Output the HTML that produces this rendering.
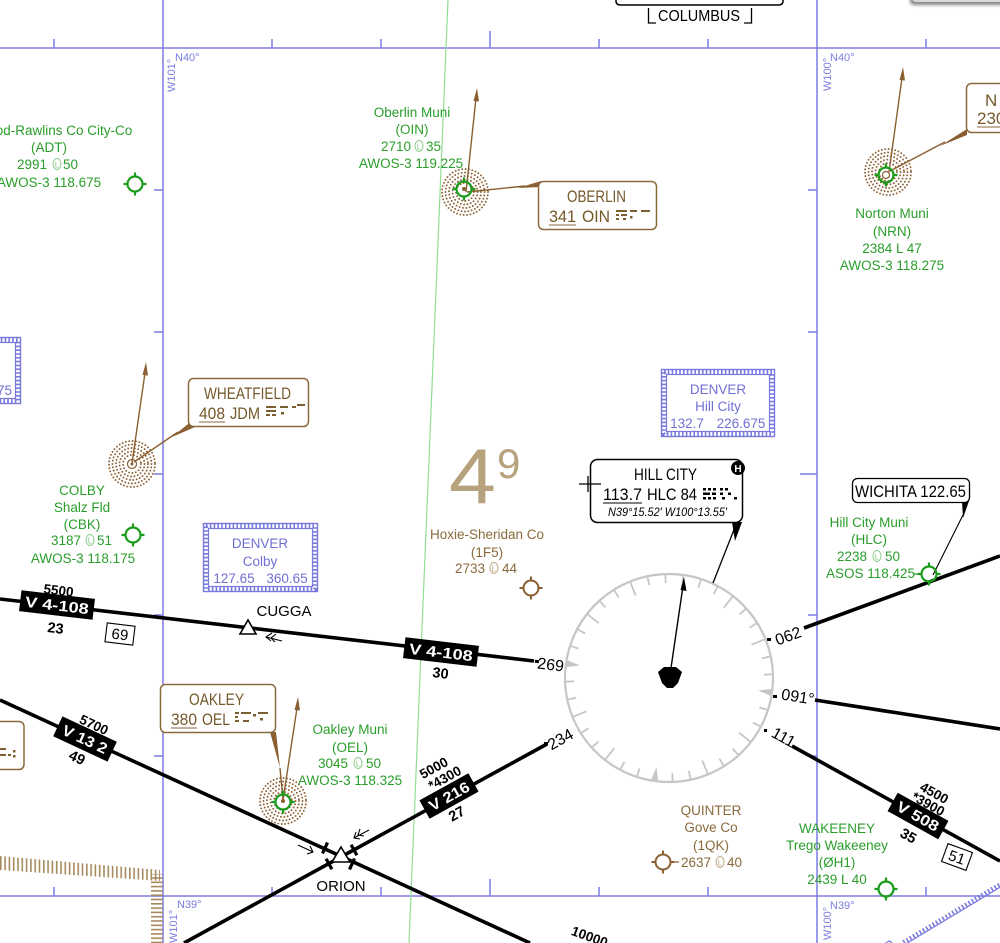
<!DOCTYPE html>
<html><head><meta charset="utf-8"><style>
html,body{margin:0;padding:0;background:#fff;}
svg{display:block;}
text{font-family:"Liberation Sans",sans-serif;}
.g{fill:#2a9e2a;font-size:13.5px;text-anchor:middle;}
.gs{fill:#2a9e2a;font-size:13.5px;}
.br{fill:#8a6a3c;font-size:13.5px;text-anchor:middle;}
.brs{fill:#8a6a3c;font-size:13.5px;}
.bl{fill:#7070d4;font-size:13.5px;text-anchor:middle;}
.k{fill:#000;font-size:14px;text-anchor:middle;}
.kb{fill:#000;font-size:13.5px;font-weight:bold;text-anchor:middle;}
.nb{fill:#75582a;font-size:17px;}
.wt{fill:#fff;font-size:15px;font-weight:bold;text-anchor:middle;}
.gl{fill:#7b7be0;font-size:11px;}
</style></head><body>
<svg width="1000" height="943" viewBox="0 0 1000 943" xmlns="http://www.w3.org/2000/svg">
<defs>
 <g id="apt" fill="none"><circle r="7.5"/><path d="M0,-7.5V-11.5M0,7.5V11.5M-7.5,0H-11.5M7.5,0H11.5"/></g>
 <g id="ndb" fill="none" stroke="#8d5f30" stroke-linecap="round" stroke-width="1.9" stroke-dasharray="0 3.4">
   <circle r="9"/><circle r="12.5"/><circle r="16"/><circle r="19.5"/><circle r="23"/>
 </g>
 <pattern id="hv" width="4.3" height="60" patternUnits="userSpaceOnUse"><rect width="1.6" height="60" fill="#a8895e"/></pattern>
 <pattern id="hh" width="40" height="4.3" patternUnits="userSpaceOnUse"><rect width="40" height="1.6" fill="#a8895e"/></pattern>
 <filter id="sh" x="-20%" y="-50%" width="140%" height="300%"><feGaussianBlur stdDeviation="1.6"/></filter>
</defs>
<rect width="1000" height="943" fill="#fff"/>

<!-- top right grey ui element -->
<rect x="910" y="-8" width="100" height="13" rx="4" fill="#555" filter="url(#sh)" opacity="0.7"/>
<rect x="912" y="-8" width="100" height="10" rx="4" fill="#d8d8d8"/>

<!-- grid -->
<g stroke="#7b7be4" stroke-width="1.5" fill="none">
 <line x1="0" y1="48" x2="1000" y2="48"/>
 <line x1="0" y1="896" x2="1000" y2="896"/>
 <line x1="163" y1="0" x2="163" y2="943"/>
 <line x1="817" y1="0" x2="817" y2="943"/>
 <path d="M54,48V39M272,48V39M381,48V39M490,48V31M599,48V39M708,48V39M926,48V39"/>
 <path d="M54,896V887M272,896V887M381,896V887M490,896V879M599,896V887M708,896V887M926,896V887"/>
 <path d="M163,190H154M163,332H154M163,474H154M163,615H154M163,756H154"/>
 <path d="M817,190H808M817,332H808M817,474H800M817,615H808M817,756H808"/>
</g>
<text class="gl" x="175" y="61">N40°</text>
<text class="gl" transform="translate(175,92) rotate(-90)">W101°</text>
<text class="gl" x="830" y="61">N40°</text>
<text class="gl" transform="translate(831,91) rotate(-90)">W100°</text>
<text class="gl" x="177" y="908">N39°</text>
<text class="gl" transform="translate(177,943) rotate(-90)">W101°</text>
<text class="gl" x="830" y="909">N39°</text>
<text class="gl" transform="translate(831,940) rotate(-90)">W100°</text>

<!-- green isogonic line -->
<line x1="448" y1="0" x2="409" y2="943" stroke="#92dc92" stroke-width="1.2"/>

<!-- hatched boundary bottom-left -->
<polygon points="0,856 160,870 160,881 0,870" fill="url(#hv)"/>
<rect x="151" y="874" width="12" height="69" fill="url(#hh)"/>

<!-- blue stamps -->
<g fill="none" stroke="#7a7ade">
 <rect x="203.5" y="523.5" width="114" height="68" stroke-width="1.4"/>
 <rect x="206" y="526" width="109" height="63" stroke-width="4.5" stroke-dasharray="1.6 2.2"/>
 <rect x="208.5" y="528.5" width="104" height="58" stroke-width="1.2"/>
 <rect x="661.5" y="369.5" width="113" height="67" stroke-width="1.4"/>
 <rect x="664" y="372" width="108" height="62" stroke-width="4.5" stroke-dasharray="1.6 2.2"/>
 <rect x="666.5" y="374.5" width="103" height="57" stroke-width="1.2"/>
 <rect x="-60" y="337.5" width="80.5" height="66" stroke-width="1.4"/>
 <rect x="-60" y="340" width="78" height="61" stroke-width="4.5" stroke-dasharray="1.6 2.2"/>
 <rect x="-60" y="342.5" width="75.5" height="56" stroke-width="1.2"/>
 <g transform="translate(905,945) rotate(-31)">
  <line x1="0" y1="-3" x2="130" y2="-3" stroke-width="4.5" stroke-dasharray="1.6 2.2"/>
  <line x1="0" y1="-0.5" x2="130" y2="-0.5" stroke-width="1.2"/>
 </g>
</g>
<text class="bl" x="260" y="548">DENVER</text>
<text class="bl" x="260" y="566">Colby</text>
<text class="bl" x="234" y="583">127.65</text>
<text class="bl" x="287" y="583">360.65</text>
<text class="bl" x="718" y="394">DENVER</text>
<text class="bl" x="718" y="411">Hill City</text>
<text class="bl" x="687" y="428">132.7</text>
<text class="bl" x="741" y="428">226.675</text>
<text class="bl" x="12" y="395" style="text-anchor:end">175</text>
<text class="bl" transform="translate(896,947) rotate(-31)" style="text-anchor:end">DENVER</text>

<!-- airways -->
<g stroke="#000" stroke-width="3.6" fill="none">
 <line x1="0" y1="599" x2="534" y2="661"/>
 <line x1="0" y1="700" x2="530" y2="943"/>
 <line x1="547" y1="744" x2="184" y2="943"/>
 <line x1="804" y1="628" x2="1000" y2="556"/>
 <line x1="815" y1="700" x2="1000" y2="729"/>
 <line x1="792" y1="746" x2="1000" y2="861"/>
</g>
<g fill="#000">
 <rect x="535" y="660" width="4" height="3" transform="rotate(7 537 661)"/>
 <rect x="767" y="638" width="4" height="3"/>
 <rect x="773" y="695" width="4" height="3"/>
 <rect x="764" y="729" width="3" height="3"/>
 <rect x="544" y="742" width="4" height="3"/>
</g>
<text class="k" transform="translate(550,670) rotate(7)" style="font-size:16px">269</text>
<text class="k" transform="translate(790,641) rotate(-20)" style="font-size:16px">062</text>
<text class="k" transform="translate(797,702) rotate(9)" style="font-size:16px">091°</text>
<text class="k" transform="translate(781,742) rotate(29)" style="font-size:16px">111</text>
<text class="k" transform="translate(563,744) rotate(-29)" style="font-size:16px">234</text>

<!-- V4-108 -->
<g transform="translate(57,605) rotate(6.7)"><rect x="-37" y="-10.5" width="74" height="21" fill="#000"/><text class="wt" x="0" y="5.5" textLength="64" lengthAdjust="spacingAndGlyphs">V 4-108</text></g>
<text class="kb" transform="translate(58,595) rotate(6.7)">5500</text>
<text class="kb" transform="translate(55,633) rotate(6.7)" style="font-size:14.5px">23</text>
<g transform="translate(120,634) rotate(7)"><rect x="-14" y="-9.5" width="28" height="19" fill="#fff" stroke="#000" stroke-width="1.1"/><text class="k" x="0" y="5.5" style="font-size:15px">69</text></g>
<g transform="translate(441,652) rotate(6.7)"><rect x="-37" y="-10.5" width="74" height="21" fill="#000"/><text class="wt" x="0" y="5.5" textLength="64" lengthAdjust="spacingAndGlyphs">V 4-108</text></g>
<text class="kb" transform="translate(440,678) rotate(6.7)" style="font-size:14.5px">30</text>
<!-- CUGGA -->
<polygon points="240,634 256,634 248,620" fill="#fff" stroke="#000" stroke-width="1.6"/>
<text class="k" x="284" y="616" style="font-size:15px">CUGGA</text>
<g stroke="#000" stroke-width="1.1" fill="none"><line x1="282" y1="641" x2="266" y2="637"/><path d="M272,633 L266,637 L271,641"/><path d="M276,634 L271,638 L275,642"/></g>

<!-- V132 -->
<g transform="translate(85,739) rotate(25)"><rect x="-30" y="-11" width="60" height="22" fill="#000"/><text class="wt" x="0" y="5.5" textLength="48" lengthAdjust="spacingAndGlyphs">V 13 2</text></g>
<text class="kb" transform="translate(92,729) rotate(25)">5700</text>
<text class="kb" transform="translate(75,762) rotate(25)" style="font-size:14.5px">49</text>

<!-- V216 -->
<g transform="translate(449,796) rotate(-29)"><rect x="-28" y="-10.5" width="56" height="21" fill="#000"/><text class="wt" x="0" y="5.5" textLength="44" lengthAdjust="spacingAndGlyphs">V 216</text></g>
<text class="kb" transform="translate(436,772) rotate(-29)">5000</text>
<text class="kb" transform="translate(447,782) rotate(-29)">*4300</text>
<text class="kb" transform="translate(459,818) rotate(-29)" style="font-size:14.5px">27</text>

<!-- V508 -->
<g transform="translate(918,816) rotate(29)"><rect x="-29" y="-10.5" width="58" height="21" fill="#000"/><text class="wt" x="0" y="5.5" textLength="46" lengthAdjust="spacingAndGlyphs">V 508</text></g>
<text class="kb" transform="translate(932,797) rotate(29)">4500</text>
<text class="kb" transform="translate(926,808) rotate(29)">*3900</text>
<text class="kb" transform="translate(906,840) rotate(29)" style="font-size:14.5px">35</text>
<g transform="translate(957,857) rotate(20)"><rect x="-13" y="-9.5" width="26" height="19" fill="#fff" stroke="#000" stroke-width="1.1"/><text class="k" x="0" y="5.5" style="font-size:15px">51</text></g>
<text class="kb" transform="translate(588,941) rotate(20)">10000</text>

<!-- ORION -->
<g stroke="#000" stroke-width="3.2">
 <line transform="translate(325,848) rotate(24.7)" x1="0" y1="-6" x2="0" y2="6"/>
 <line transform="translate(352,864) rotate(24.7)" x1="0" y1="-6" x2="0" y2="6"/>
 <line transform="translate(354,850) rotate(-28.8)" x1="0" y1="-6" x2="0" y2="6"/>
 <line transform="translate(329,864) rotate(-28.8)" x1="0" y1="-6" x2="0" y2="6"/>
</g>
<polygon points="332,862 350,862 341,847" fill="#fff" stroke="#000" stroke-width="1.6"/>
<text class="k" x="341" y="891" style="font-size:15px">ORION</text>
<g stroke="#000" stroke-width="1.1" fill="none">
 <line x1="298" y1="845" x2="313" y2="852"/><path d="M307,854 L313,852 L310,846"/>
 <line x1="369" y1="830" x2="354" y2="838"/><path d="M356,832 L354,838 L360,839"/><path d="M360,829 L358,835 L364,836"/>
</g>

<!-- compass rose -->
<circle cx="669" cy="678" r="104" fill="none" stroke="#c6c6c6" stroke-width="2.2"/>
<g transform="translate(669,678) rotate(8)" stroke="#c6c6c6" stroke-width="1.8">
 <line y1="-103" y2="-92"/>
 <line y1="-103" y2="-95" transform="rotate(10)"/>
 <line y1="-103" y2="-95" transform="rotate(20)"/>
 <line y1="-103" y2="-89" transform="rotate(30)"/>
 <line y1="-103" y2="-95" transform="rotate(40)"/>
 <line y1="-103" y2="-95" transform="rotate(50)"/>
 <line y1="-103" y2="-89" transform="rotate(60)"/>
 <line y1="-103" y2="-95" transform="rotate(70)"/>
 <line y1="-103" y2="-95" transform="rotate(80)"/>
 <line y1="-103" y2="-95" transform="rotate(100)"/>
 <line y1="-103" y2="-95" transform="rotate(110)"/>
 <line y1="-103" y2="-89" transform="rotate(120)"/>
 <line y1="-103" y2="-95" transform="rotate(130)"/>
 <line y1="-103" y2="-95" transform="rotate(140)"/>
 <line y1="-103" y2="-89" transform="rotate(150)"/>
 <line y1="-103" y2="-95" transform="rotate(160)"/>
 <line y1="-103" y2="-95" transform="rotate(170)"/>
 <line y1="-103" y2="-95" transform="rotate(190)"/>
 <line y1="-103" y2="-95" transform="rotate(200)"/>
 <line y1="-103" y2="-89" transform="rotate(210)"/>
 <line y1="-103" y2="-95" transform="rotate(220)"/>
 <line y1="-103" y2="-95" transform="rotate(230)"/>
 <line y1="-103" y2="-89" transform="rotate(240)"/>
 <line y1="-103" y2="-95" transform="rotate(250)"/>
 <line y1="-103" y2="-95" transform="rotate(260)"/>
 <line y1="-103" y2="-95" transform="rotate(280)"/>
 <line y1="-103" y2="-95" transform="rotate(290)"/>
 <line y1="-103" y2="-89" transform="rotate(300)"/>
 <line y1="-103" y2="-95" transform="rotate(310)"/>
 <line y1="-103" y2="-95" transform="rotate(320)"/>
 <line y1="-103" y2="-89" transform="rotate(330)"/>
 <line y1="-103" y2="-95" transform="rotate(340)"/>
 <line y1="-103" y2="-95" transform="rotate(350)"/>
 <polygon points="-3.5,-103 3.5,-103 0,-90" fill="#c6c6c6" stroke="none" transform="rotate(90)"/>
 <polygon points="-3.5,-103 3.5,-103 0,-90" fill="#c6c6c6" stroke="none" transform="rotate(180)"/>
 <polygon points="-3.5,-103 3.5,-103 0,-90" fill="#c6c6c6" stroke="none" transform="rotate(270)"/>
</g>
<line x1="671" y1="668" x2="683" y2="586" stroke="#000" stroke-width="1.4"/>
<polygon points="684,577 680.5,590 686.5,591" fill="#000"/>
<polygon points="658,672 664,667 676,667 682,672 678,683 673,688 667,688 662,683" fill="#000"/>

<!-- HILL CITY box -->
<line x1="737" y1="522" x2="713" y2="583" stroke="#000" stroke-width="1.3"/>
<polygon points="732,522 742,522 735,541" fill="#000"/>
<rect x="590.5" y="459.5" width="152" height="63" rx="7" fill="#fff" stroke="#000" stroke-width="1.5"/>
<circle cx="738" cy="468" r="7" fill="#000"/>
<text x="738" y="472" fill="#fff" style="font-size:10px;font-weight:bold;text-anchor:middle">H</text>
<path d="M579,484H601M588,476V492" stroke="#000" stroke-width="1.3"/>
<text x="634" y="480" textLength="63" lengthAdjust="spacingAndGlyphs" style="font-size:17px;fill:#000">HILL CITY</text>
<text x="603" y="500" textLength="39" lengthAdjust="spacingAndGlyphs" style="font-size:17px;fill:#000">113.7</text>
<line x1="603" y1="503" x2="642" y2="503" stroke="#000" stroke-width="1"/>
<text x="647" y="500" textLength="50" lengthAdjust="spacingAndGlyphs" style="font-size:17px;fill:#000">HLC 84</text>
<g fill="#000">
 <rect x="703" y="488" width="3" height="2.5"/><rect x="708" y="488" width="3" height="2.5"/><rect x="713" y="488" width="3" height="2.5"/><rect x="720" y="488" width="3" height="2.5"/><rect x="725" y="488" width="3" height="2.5"/>
 <rect x="703" y="492.5" width="7" height="2.5"/><rect x="712" y="492.5" width="4" height="2.5"/><rect x="720" y="492.5" width="3" height="2.5"/><rect x="728" y="492.5" width="3" height="2.5"/>
 <rect x="703" y="497" width="3" height="2.5"/><rect x="708" y="497" width="3" height="2.5"/><rect x="713" y="497" width="3" height="2.5"/><rect x="722" y="497" width="3" height="2.5"/><rect x="734" y="497" width="3" height="2.5"/>
</g>
<text x="608" y="516" textLength="119" lengthAdjust="spacingAndGlyphs" style="font-size:12px;font-style:italic;fill:#000">N39°15.52' W100°13.55'</text>

<!-- WICHITA box -->
<line x1="963" y1="515" x2="933" y2="575" stroke="#000" stroke-width="1.1"/>
<polygon points="962,501 969,501 963,518" fill="#000"/>
<rect x="852.5" y="478.5" width="117" height="24" rx="5" fill="#fff" stroke="#000" stroke-width="1.3"/>
<text x="855" y="497" textLength="111" lengthAdjust="spacingAndGlyphs" style="font-size:17px;fill:#000">WICHITA 122.65</text>

<!-- COLUMBUS -->
<path d="M616,-3V1Q616,5 621,5H778Q783,5 783,1V-3" fill="none" stroke="#000" stroke-width="1.5"/>
<path d="M648.5,8V23H656M751.5,8V23H744" fill="none" stroke="#000" stroke-width="1.3"/>
<text x="658" y="21" textLength="82" lengthAdjust="spacingAndGlyphs" style="font-size:16px;fill:#000">COLUMBUS</text>

<!-- NDB arrows and pointers -->
<g stroke="#8a6032" stroke-width="1.4" fill="#8a6032">
 <line x1="466" y1="192" x2="476" y2="98"/>
 <polygon points="477,88 473.5,101 479,101.5" stroke="none"/>
 <line x1="467" y1="192" x2="525" y2="186"/>
 <polygon points="518,188 541,181 541,187" stroke="none"/>
 <line x1="889" y1="172" x2="902" y2="78"/>
 <polygon points="903,67 899.5,80 905,80.5" stroke="none"/>
 <line x1="890" y1="171" x2="945" y2="142"/>
 <polygon points="940,146 967,129 967,135" stroke="none"/>
 <line x1="132" y1="463" x2="145" y2="373"/>
 <polygon points="146,362 142.5,375 148,375.5" stroke="none"/>
 <line x1="134" y1="462" x2="178" y2="432"/>
 <polygon points="172,437 193,420 195,427" stroke="none"/>
 <line x1="283" y1="800" x2="297" y2="708"/>
 <polygon points="298,697 294.5,710 300,710.5" stroke="none"/>
 <line x1="283" y1="800" x2="280" y2="768"/>
 <polygon points="270,732 276,732 280,768" stroke="none"/>
</g>

<!-- NDB discs -->
<use href="#ndb" x="465" y="192"/>
<use href="#ndb" x="888" y="172"/>
<use href="#ndb" x="132" y="464"/>
<use href="#ndb" x="283" y="801"/>
<circle cx="132" cy="464" r="4.5" fill="none" stroke="#8a6032" stroke-width="1.2"/>
<circle cx="132" cy="464" r="1.5" fill="#8a6032"/>

<!-- NDB boxes -->
<rect x="538.5" y="181.5" width="118" height="48" rx="5" fill="#fff" stroke="#8a6a3c" stroke-width="1.5"/>
<text class="nb" x="567" y="202" textLength="59" lengthAdjust="spacingAndGlyphs">OBERLIN</text>
<text class="nb" x="549" y="222" textLength="27" lengthAdjust="spacingAndGlyphs">341</text>
<line x1="549" y1="225" x2="576" y2="225" stroke="#8a6a3c" stroke-width="1"/>
<text class="nb" x="582" y="222" textLength="28" lengthAdjust="spacingAndGlyphs">OIN</text>
<g fill="#7a6030"><rect x="616" y="210" width="11" height="2"/><rect x="616" y="214" width="3" height="2"/><rect x="621" y="214" width="6" height="2"/><rect x="616" y="218" width="3" height="2"/><rect x="623" y="218" width="3" height="2"/><rect x="630" y="210" width="7" height="2"/><rect x="630" y="216" width="2.5" height="2.5"/><rect x="641" y="210" width="9" height="2"/></g>

<rect x="188.5" y="378.5" width="120" height="48" rx="5" fill="#fff" stroke="#8a6a3c" stroke-width="1.5"/>
<text class="nb" x="204" y="399" textLength="87" lengthAdjust="spacingAndGlyphs">WHEATFIELD</text>
<text class="nb" x="199" y="419" textLength="26" lengthAdjust="spacingAndGlyphs">408</text>
<line x1="199" y1="422" x2="225" y2="422" stroke="#8a6a3c" stroke-width="1"/>
<text class="nb" x="230" y="419" textLength="30" lengthAdjust="spacingAndGlyphs">JDM</text>
<g fill="#7a6030"><rect x="266" y="406" width="10" height="2"/><rect x="266" y="410" width="10" height="2"/><rect x="266" y="414" width="4" height="2"/><rect x="272" y="414" width="4" height="2"/><rect x="280" y="406" width="8" height="2"/><rect x="281" y="412" width="3" height="2.5"/><rect x="292" y="406" width="4" height="2"/><rect x="297" y="404" width="8" height="2"/></g>

<rect x="160.5" y="684.5" width="115" height="48" rx="5" fill="#fff" stroke="#8a6a3c" stroke-width="1.5"/>
<text class="nb" x="189" y="705" textLength="55" lengthAdjust="spacingAndGlyphs">OAKLEY</text>
<text class="nb" x="171" y="725" textLength="26" lengthAdjust="spacingAndGlyphs">380</text>
<line x1="171" y1="728" x2="197" y2="728" stroke="#8a6a3c" stroke-width="1"/>
<text class="nb" x="202" y="725" textLength="28" lengthAdjust="spacingAndGlyphs">OEL</text>
<g fill="#7a6030"><rect x="235" y="712" width="4" height="2"/><rect x="235" y="716" width="3" height="2"/><rect x="235" y="720" width="4" height="2"/><rect x="241" y="712" width="10" height="2"/><rect x="243" y="720" width="6" height="2"/><rect x="253" y="714" width="3" height="2.5"/><rect x="258" y="712" width="10" height="2"/><rect x="260" y="718" width="3" height="2.5"/></g>

<rect x="966.5" y="83.5" width="60" height="49" rx="5" fill="#fff" stroke="#8a6a3c" stroke-width="1.5"/>
<text class="nb" x="985" y="106">N</text>
<text class="nb" x="977" y="124">230</text>
<line x1="977" y1="127" x2="1000" y2="127" stroke="#8a6a3c" stroke-width="1"/>

<rect x="-60" y="721.5" width="84" height="48" rx="5" fill="#fff" stroke="#8a6a3c" stroke-width="1.5"/>
<g fill="#7a6030"><rect x="0" y="748" width="6" height="2"/><rect x="0" y="754" width="6" height="2"/><rect x="8" y="754" width="3" height="2"/><rect x="13" y="750" width="2.5" height="2.5"/><rect x="13" y="755" width="2.5" height="2.5"/></g>

<!-- airport symbols -->
<use href="#apt" x="135" y="184" stroke="#1c9c1c" stroke-width="2.2"/>
<use href="#apt" x="464" y="189" stroke="#1c9c1c" stroke-width="2.2"/>
<use href="#apt" x="886" y="175" stroke="#1c9c1c" stroke-width="2.2"/>
<use href="#apt" x="133" y="535" stroke="#1c9c1c" stroke-width="2.2"/>
<use href="#apt" x="283" y="802" stroke="#1c9c1c" stroke-width="2.2"/>
<use href="#apt" x="929" y="574" stroke="#1c9c1c" stroke-width="2.2"/>
<use href="#apt" x="886" y="889" stroke="#1c9c1c" stroke-width="2.2"/>
<use href="#apt" x="531" y="588" stroke="#8a6032" stroke-width="2"/>
<use href="#apt" x="663" y="862" stroke="#8a6032" stroke-width="2"/>
<circle cx="464" cy="189" r="2" fill="#8a6032"/>
<circle cx="886" cy="175" r="3.5" fill="none" stroke="#8a6032" stroke-width="1.2"/>
<circle cx="283" cy="801" r="2" fill="#8a6032"/>

<!-- 4^9 -->
<text x="449" y="503" textLength="47" lengthAdjust="spacingAndGlyphs" style="font-size:78px;fill:#b6a27c">4</text>
<text x="497" y="478" style="font-size:42px;fill:#b6a27c">9</text>

<!-- green airport texts -->
<text class="g" x="49" y="135">Atwood-Rawlins Co City-Co</text>
<text class="g" x="49" y="152">(ADT)</text>
<text class="gs" x="47" y="169" style="text-anchor:end">2991</text>
<ellipse cx="57" cy="164" rx="4" ry="5.5" fill="none" stroke="#8ccc8c" stroke-width="1"/><text x="57" y="167.5" style="font-size:8px;fill:#8ccc8c;text-anchor:middle">L</text>
<text class="gs" x="63" y="169">50</text>
<text class="g" x="49" y="187">AWOS-3 118.675</text>

<text class="g" x="412" y="117">Oberlin Muni</text>
<text class="g" x="412" y="134">(OIN)</text>
<text class="gs" x="411" y="151" style="text-anchor:end">2710</text>
<ellipse cx="419" cy="146" rx="4" ry="5.5" fill="none" stroke="#8ccc8c" stroke-width="1"/><text x="419" y="149.5" style="font-size:8px;fill:#8ccc8c;text-anchor:middle">L</text>
<text class="gs" x="426" y="151">35</text>
<text class="g" x="411" y="168">AWOS-3 119.225</text>

<text class="g" x="892" y="218">Norton Muni</text>
<text class="g" x="892" y="236">(NRN)</text>
<text class="g" x="892" y="253">2384 L 47</text>
<text class="g" x="892" y="270">AWOS-3 118.275</text>

<text class="g" x="82" y="495">COLBY</text>
<text class="g" x="82" y="512">Shalz Fld</text>
<text class="g" x="82" y="529">(CBK)</text>
<text class="gs" x="81" y="545" style="text-anchor:end">3187</text>
<ellipse cx="90" cy="540" rx="4" ry="5.5" fill="none" stroke="#8ccc8c" stroke-width="1"/><text x="90" y="543.5" style="font-size:8px;fill:#8ccc8c;text-anchor:middle">L</text>
<text class="gs" x="97" y="545">51</text>
<text class="g" x="83" y="563">AWOS-3 118.175</text>

<text class="g" x="350" y="734">Oakley Muni</text>
<text class="g" x="350" y="752">(OEL)</text>
<text class="gs" x="348" y="768" style="text-anchor:end">3045</text>
<ellipse cx="358" cy="763" rx="4" ry="5.5" fill="none" stroke="#8ccc8c" stroke-width="1"/><text x="358" y="766.5" style="font-size:8px;fill:#8ccc8c;text-anchor:middle">L</text>
<text class="gs" x="366" y="768">50</text>
<text class="g" x="350" y="785">AWOS-3 118.325</text>

<text class="g" x="869" y="527">Hill City Muni</text>
<text class="g" x="869" y="544">(HLC)</text>
<text class="gs" x="867" y="561" style="text-anchor:end">2238</text>
<ellipse cx="877" cy="556" rx="4" ry="5.5" fill="none" stroke="#8ccc8c" stroke-width="1"/><text x="877" y="559.5" style="font-size:8px;fill:#8ccc8c;text-anchor:middle">L</text>
<text class="gs" x="885" y="561">50</text>
<text class="gs" x="826" y="578">ASOS 118.425</text>
<line x1="914" y1="574" x2="919" y2="574" stroke="#1c9c1c" stroke-width="1.2"/>

<text class="g" x="837" y="833">WAKEENEY</text>
<text class="g" x="837" y="850">Trego Wakeeney</text>
<text class="g" x="837" y="867">(ØH1)</text>
<text class="g" x="837" y="884">2439 L 40</text>

<!-- brown airport texts -->
<text class="br" x="487" y="539">Hoxie-Sheridan Co</text>
<text class="br" x="487" y="557">(1F5)</text>
<text class="brs" x="485" y="573" style="text-anchor:end">2733</text>
<ellipse cx="494" cy="568" rx="4" ry="5.5" fill="none" stroke="#c0a884" stroke-width="1"/><text x="494" y="571.5" style="font-size:8px;fill:#c0a884;text-anchor:middle">L</text>
<text class="brs" x="502" y="573">44</text>

<text class="br" x="711" y="815">QUINTER</text>
<text class="br" x="711" y="832">Gove Co</text>
<text class="br" x="711" y="850">(1QK)</text>
<text class="brs" x="711" y="867" style="text-anchor:end">2637</text>
<ellipse cx="720" cy="862" rx="4" ry="5.5" fill="none" stroke="#c0a884" stroke-width="1"/><text x="720" y="865.5" style="font-size:8px;fill:#c0a884;text-anchor:middle">L</text>
<text class="brs" x="727" y="867">40</text>
<line x1="673" y1="862" x2="679" y2="862" stroke="#8a6032" stroke-width="1.2"/>
</svg>
</body></html>
